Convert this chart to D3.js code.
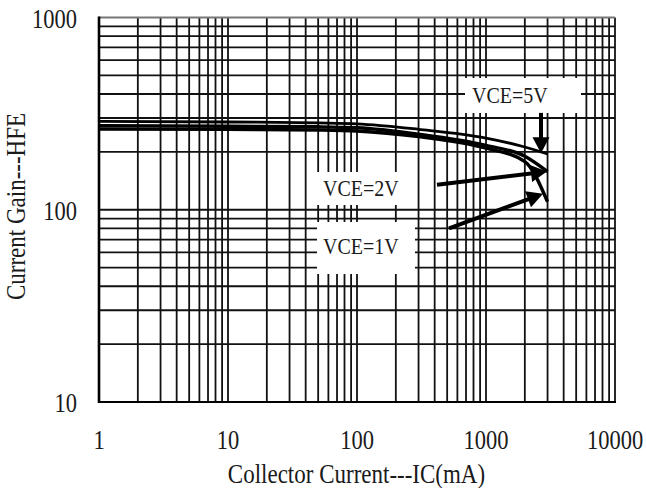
<!DOCTYPE html>
<html>
<head>
<meta charset="utf-8">
<script src="https://cdn.jsdelivr.net/npm/d3@7"></script>
<style>
  html, body { margin: 0; padding: 0; background: #fff; }
  svg { display: block; }
  text { font-family: "Liberation Serif", "Times New Roman", serif; fill: #1a1a1a; }
</style>
</head>
<body>
<script>
// Collector current (mA) sample points and DC current gain per VCE
const collectorCurrent = [1, 10, 50, 100, 300, 1000, 2000, 3000];
const hfeVce5 = [288, 286, 283, 280, 262, 236, 212, 195];
const hfeVce2 = [274, 272, 270, 267, 247, 216, 190, 158];
const hfeVce1 = [263, 262, 260, 257, 240, 209, 178, 110];

const xTickLabels = [1, 10, 100, 1000, 10000];
const yTickLabels = [10, 100, 1000];

// Callouts: label text plus arrow tail/tip in data units (IC mA, hFE)
const callouts = [
  { text: "VCE=5V", tail: [2670, 319], tip: [2670, 197] },
  { text: "VCE=2V", tail: [417, 135], tip: [2970, 158] },
  { text: "VCE=1V", tail: [517, 80],  tip: [2770, 121] }
];

const W = 646, H = 488;
const plot = { left: 99, right: 615, top: 17.5, bottom: 402 };

const svg = d3.select("body").append("svg")
  .attr("width", W).attr("height", H);

const x = d3.scaleLog().domain([1, 10000]).range([plot.left, plot.right]);
const y = d3.scaleLog().domain([10, 1000]).range([plot.bottom, plot.top]);

// Full log grid (1..9 per decade) in both directions
const grid = svg.append("g").attr("stroke", "#111").attr("stroke-width", 1.8);
grid.selectAll("line.v").data(x.ticks()).join("line")
  .attr("class", "v")
  .attr("x1", d => x(d)).attr("x2", d => x(d))
  .attr("y1", plot.top).attr("y2", plot.bottom);
grid.selectAll("line.h").data(y.ticks()).join("line")
  .attr("class", "h")
  .attr("x1", plot.left).attr("x2", plot.right)
  .attr("y1", d => y(d)).attr("y2", d => y(d))
  .attr("stroke", d => d === 1000 ? "#777" : "#111");

// Axis frame emphasis
svg.append("line").attr("x1", plot.left).attr("x2", plot.left)
  .attr("y1", plot.top - 1).attr("y2", plot.bottom + 1)
  .attr("stroke", "#000").attr("stroke-width", 2.6);
svg.append("line").attr("x1", plot.left).attr("x2", plot.right + 1)
  .attr("y1", plot.bottom).attr("y2", plot.bottom)
  .attr("stroke", "#000").attr("stroke-width", 2.2);

// Gain curves
const line = d3.line()
  .x(d => x(d[0])).y(d => y(d[1]))
  .curve(d3.curveMonotoneX);
const series = [
  { values: hfeVce1, width: 3.4 },
  { values: hfeVce2, width: 3.4 },
  { values: hfeVce5, width: 2.8 }
];
svg.append("g").selectAll("path").data(series).join("path")
  .attr("d", s => line(collectorCurrent.map((c, i) => [c, s.values[i]])))
  .attr("fill", "none").attr("stroke", "#000")
  .attr("stroke-width", s => s.width)
  .attr("stroke-linejoin", "round");

// Stretched serif text helper
function label(g, px, py, str, size, anchor) {
  return g.append("text")
    .attr("transform", `translate(${px},${py}) scale(1,1.2)`)
    .attr("text-anchor", anchor || "middle")
    .attr("font-size", size)
    .text(str);
}

// Callout label boxes
const boxes = [
  { x0: 465, x1: 581, y0: 78,  y1: 113, tx: 472, ty: 103 },
  { x0: 310, x1: 412, y0: 172, y1: 205, tx: 323, ty: 196 },
  { x0: 317, x1: 415, y0: 222, y1: 274, tx: 323, ty: 254 }
];
const ann = svg.append("g");
callouts.forEach((c, i) => {
  const b = boxes[i];
  ann.append("rect").attr("x", b.x0).attr("y", b.y0)
    .attr("width", b.x1 - b.x0).attr("height", b.y1 - b.y0)
    .attr("fill", "#fff");
  label(ann, b.tx, b.ty, c.text, 20, "start");
});

// Arrows pointing at each curve end
function arrow(g, c) {
  const x1 = x(c.tail[0]), y1 = y(c.tail[1]);
  const x2 = x(c.tip[0]), y2 = y(c.tip[1]);
  const dx = x2 - x1, dy = y2 - y1, len = Math.hypot(dx, dy);
  const ux = dx / len, uy = dy / len;
  const headLen = 16, headW = 8.5;
  const bx = x2 - ux * headLen, by = y2 - uy * headLen;
  g.append("line").attr("x1", x1).attr("y1", y1)
    .attr("x2", bx + ux * 2).attr("y2", by + uy * 2)
    .attr("stroke", "#000").attr("stroke-width", 4);
  g.append("path")
    .attr("d", `M${x2},${y2}L${bx - uy * headW},${by + ux * headW}L${bx + uy * headW},${by - ux * headW}Z`)
    .attr("fill", "#000");
}
callouts.forEach(c => arrow(ann, c));

// Tick labels
const tl = svg.append("g");
xTickLabels.forEach(v => label(tl, x(v), 449, d3.format("d")(v), 22.5));
yTickLabels.forEach(v => label(tl, 77, y(v) + 10, d3.format("d")(v), 22.5, "end"));

// Axis titles
label(svg, 356.5, 483, "Collector Current---IC(mA)", 23);
svg.append("text")
  .attr("transform", "translate(25,206.5) rotate(-90) scale(1,1.2)")
  .attr("text-anchor", "middle").attr("font-size", 23)
  .text("Current Gain---HFE");
</script>
</body>
</html>
